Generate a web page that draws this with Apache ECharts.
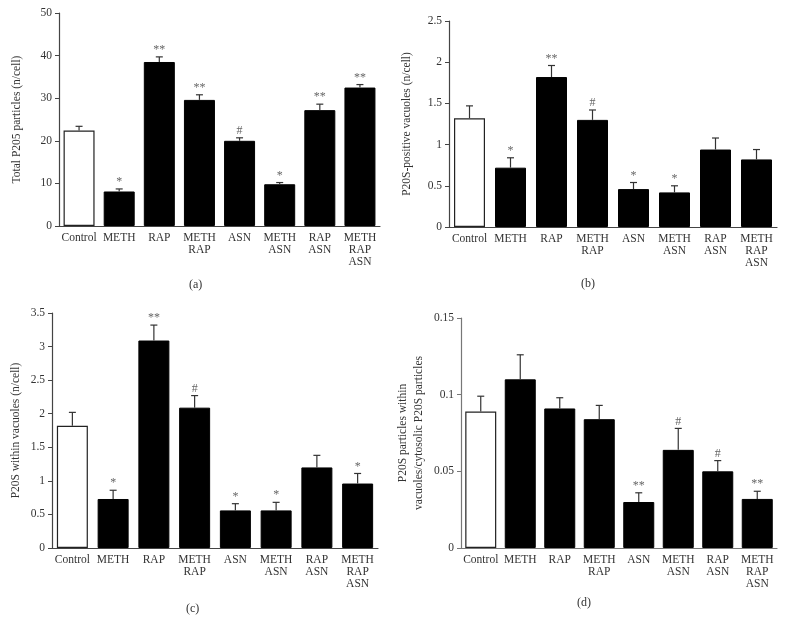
<!DOCTYPE html>
<html>
<head>
<meta charset="utf-8">
<script src="https://cdn.jsdelivr.net/npm/echarts@6/dist/echarts.min.js"></script>
<style>
html,body{margin:0;padding:0;background:#fff;}
#chart{width:787px;height:638px;}
</style>
</head>
<body>
<div id="chart"></div>
<script>
// ---- data ----
const categories = ['Control', 'METH', 'RAP', 'METH\nRAP', 'ASN', 'METH\nASN', 'RAP\nASN', 'METH\nRAP\nASN'];

const totalP20S    = [22.4, 8.1, 38.5, 29.6, 20.0, 9.8, 27.2, 32.5];
const totalP20SErr = [1.0, 0.6, 1.2, 1.2, 0.7, 0.4, 1.4, 0.7];
const totalP20SSig = ['', '*', '**', '**', '#', '*', '**', '**'];

const posVacuoles    = [1.32, 0.72, 1.82, 1.30, 0.46, 0.42, 0.94, 0.82];
const posVacuolesErr = [0.15, 0.12, 0.14, 0.12, 0.08, 0.08, 0.14, 0.12];
const posVacuolesSig = ['', '*', '**', '#', '*', '*', '', ''];

const withinVac    = [1.82, 0.73, 3.09, 2.09, 0.56, 0.56, 1.20, 0.96];
const withinVacErr = [0.20, 0.13, 0.23, 0.18, 0.10, 0.12, 0.18, 0.15];
const withinVacSig = ['', '*', '**', '#', '*', '*', '', '*'];

const ratio    = [0.089, 0.110, 0.091, 0.084, 0.030, 0.064, 0.050, 0.032];
const ratioErr = [0.010, 0.016, 0.007, 0.009, 0.006, 0.014, 0.007, 0.005];
const ratioSig = ['', '', '', '', '**', '#', '#', '**'];

const panels = [
  {vals: totalP20S, err: totalP20SErr, sig: totalP20SSig, max: 50, interval: 10,
   name: 'Total P205 particles (n/cell)', caption: '(a)',
   grid: {left: 59, top: 13, width: 321, height: 213}, capPos: [197, 287], nameGap: 34, axisColor: '#444'},
  {vals: posVacuoles, err: posVacuolesErr, sig: posVacuolesSig, max: 2.5, interval: 0.5,
   name: 'P20S-positive vacuoles (n/cell)', caption: '(b)',
   grid: {left: 449, top: 21, width: 328, height: 206}, capPos: [589, 286], nameGap: 34, axisColor: '#444'},
  {vals: withinVac, err: withinVacErr, sig: withinVacSig, max: 3.5, interval: 0.5,
   name: 'P20S within vacuoles (n/cell)', caption: '(c)',
   grid: {left: 52, top: 313, width: 326, height: 235}, capPos: [194, 611], nameGap: 28, axisColor: '#444'},
  {vals: ratio, err: ratioErr, sig: ratioSig, max: 0.15, interval: 0.05,
   name: 'P20S particles within\nvacuoles/cytosolic P20S particles', caption: '(d)',
   grid: {left: 461, top: 318, width: 316, height: 230}, capPos: [585, 605], nameGap: 34, axisColor: '#777'}
];

const FONT = 'Liberation Serif';
const TXT = '#333';
const chart = echarts.init(document.getElementById('chart'));

const grids = [], xAxes = [], yAxes = [], series = [], graphics = [];
panels.forEach((p, i) => {
  grids.push(Object.assign({containLabel: false}, p.grid));
  xAxes.push({
    type: 'category', gridIndex: i, data: categories,
    axisLine: {lineStyle: {color: p.axisColor, width: 1.2}},
    axisTick: {show: false},
    axisLabel: {color: TXT, fontFamily: FONT, fontSize: 11.5, lineHeight: 12, margin: 6, interval: 0}
  });
  yAxes.push({
    type: 'value', gridIndex: i, min: 0, max: p.max, interval: p.interval,
    name: p.name, nameLocation: 'middle', nameRotate: 90, nameGap: p.nameGap,
    nameTextStyle: {color: TXT, fontFamily: FONT, fontSize: 11.5, lineHeight: 16},
    axisLine: {show: true, lineStyle: {color: p.axisColor, width: 1.2}},
    axisTick: {show: true, length: 4, inside: false, lineStyle: {color: p.axisColor}},
    splitLine: {show: false},
    axisLabel: {color: TXT, fontFamily: FONT, fontSize: 11.5, margin: 7}
  });
  series.push({
    type: 'bar', xAxisIndex: i, yAxisIndex: i, barWidth: 31,
    data: p.vals.map((v, k) => ({
      value: v,
      itemStyle: k === 0 ? {color: '#fff', borderColor: '#222', borderWidth: 1.2}
                         : {color: '#000', borderColor: '#000', borderWidth: 1}
    })),
    silent: true, animation: false
  });
  series.push({
    type: 'custom', xAxisIndex: i, yAxisIndex: i,
    data: p.vals.map((v, k) => [k, v, v + p.err[k]]),
    renderItem: function (params, api) {
      const x = api.value(0);
      const base = api.coord([x, api.value(1)]);
      const top = api.coord([x, api.value(2)]);
      const sig = p.sig[params.dataIndex];
      const children = [
        {type: 'line', shape: {x1: base[0], y1: base[1], x2: top[0], y2: top[1]},
         style: {stroke: '#333', lineWidth: 1.2}},
        {type: 'line', shape: {x1: top[0] - 3.5, y1: top[1], x2: top[0] + 3.5, y2: top[1]},
         style: {stroke: '#333', lineWidth: 1.2}}
      ];
      if (sig) {
        children.push({type: 'text', x: top[0], y: top[1] - 1,
          style: {text: sig, fill: '#666', font: '12px "' + FONT + '"', textAlign: 'center', textVerticalAlign: 'bottom'}});
      }
      return {type: 'group', children: children};
    },
    silent: true, animation: false, z: 5
  });
  graphics.push({type: 'text', left: p.capPos[0] - 8, top: p.capPos[1] - 8,
    style: {text: p.caption, fill: TXT, font: '12px "' + FONT + '"'}});
});

chart.setOption({
  backgroundColor: '#fff',
  animation: false,
  grid: grids, xAxis: xAxes, yAxis: yAxes, series: series, graphic: graphics
});
</script>
</body>
</html>
